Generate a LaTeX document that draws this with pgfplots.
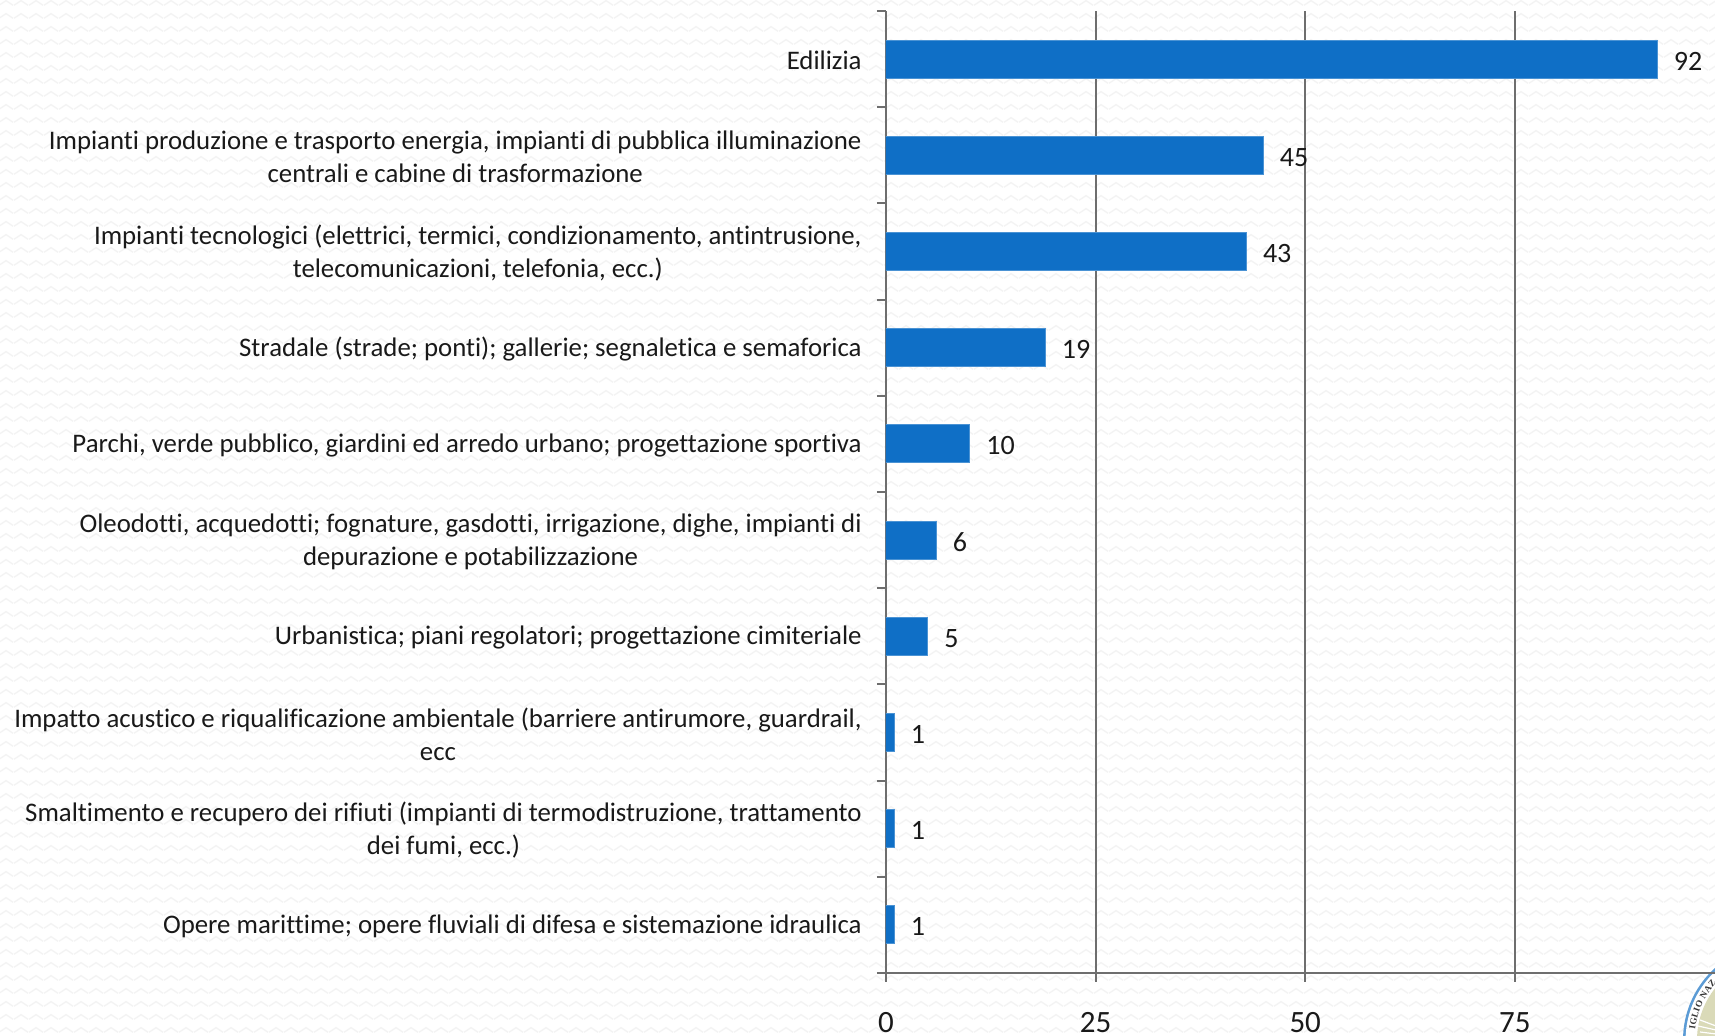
\documentclass[border=0pt]{standalone}
\usepackage{fontspec}
\setmainfont[Ligatures=NoCommon]{Carlito}
\newfontfamily\sealfont{Liberation Serif}
\usepackage{pgfplots}
\pgfplotsset{compat=1.18}
\usetikzlibrary{patterns,calc}
\definecolor{barblue}{HTML}{0F6FC6}
\definecolor{axisgray}{HTML}{6E6E6E}
\definecolor{wavegray}{HTML}{F3F3F3}
\definecolor{sealolive}{HTML}{DADAB8}
\definecolor{sealblue}{HTML}{5B9BD5}
% 1 px of the reference = 0.5pt here
\pgfdeclarepatternformonly{wavebg}{\pgfqpoint{0pt}{0pt}}{\pgfqpoint{7.5pt}{6.5pt}}{\pgfqpoint{7.5pt}{6.5pt}}{
  \pgfsetlinewidth{0.7pt}
  \pgfpathmoveto{\pgfqpoint{0pt}{2pt}}
  \pgfpathlineto{\pgfqpoint{3.75pt}{4.5pt}}
  \pgfpathlineto{\pgfqpoint{7.5pt}{2pt}}
  \pgfusepath{stroke}
}
\begin{document}
\begin{tikzpicture}
\clip (0,0) rectangle (857.5pt,518pt);
\fill[white] (0,0) rectangle (857.5pt,518pt);
\fill[pattern=wavebg, pattern color=wavegray] (0,0) rectangle (857.5pt,518pt);
% seal in the corner, cut by the page edge
\fill[sealblue] (890pt,-2pt) circle (48.5pt);
\fill[white] (890pt,-2pt) circle (47.2pt);
\fill[sealolive] (890pt,-2pt) circle (41.5pt);
\draw[white, line width=0.6pt] (849pt,5pt) -- (858pt,3pt) (850pt,2pt) -- (858pt,1pt) (850pt,8pt) -- (858pt,5pt);
\foreach \a/\l in {172/I,168/G,163.5/L,160/I,156/O,149.5/N,144.5/A,140/Z}{
  \pgfmathsetmacro{\r}{\a-90}
  \node[rotate=\r, font=\sealfont\bfseries\fontsize{4.6}{5}\selectfont, inner sep=0pt, text=black!80]
    at ($(890pt,-2pt)+(\a:44.3pt)$) {\l};
}
\begin{axis}[
    at={(443pt,31.5pt)},
    anchor=south west,
    scale only axis,
    width=414.5pt,
    height=481pt,
    xbar,
    bar width=19pt,
    xmin=0, xmax=98.87,
    ymin=-0.5, ymax=9.5,
    axis x line=bottom,
    axis y line=left,
    axis line style={-, draw=axisgray, line width=1pt},
    xtick={0,25,50,75},
    minor xtick={0,25,50,75},
    ytick={0,...,9},
    minor ytick={-0.5,0.5,...,9.5},
    major tick length=0pt,
    minor tick length=4.5pt,
    tick align=outside,
    minor tick style={draw=axisgray, line width=1pt},
    xmajorgrids,
    major grid style={draw=axisgray, line width=1pt},
    yticklabels={
      {Opere marittime; opere fluviali di difesa e sistemazione idraulica},
      {Smaltimento e recupero dei rifiuti (impianti di termodistruzione, trattamento\\dei fumi, ecc.)},
      {Impatto acustico e riqualificazione ambientale (barriere antirumore, guardrail,\\ecc},
      {Urbanistica; piani regolatori; progettazione cimiteriale},
      {Oleodotti, acquedotti; fognature, gasdotti, irrigazione, dighe, impianti di\\depurazione e potabilizzazione},
      {Parchi, verde pubblico, giardini ed arredo urbano; progettazione sportiva},
      {Stradale (strade; ponti); gallerie; segnaletica e semaforica},
      {Impianti tecnologici (elettrici, termici, condizionamento, antintrusione,\\telecomunicazioni, telefonia, ecc.)},
      {Impianti produzione e trasporto energia, impianti di pubblica illuminazione\\centrali e cabine di trasformazione},
      {Edilizia}
    },
    yticklabel style={align=center, font=\fontsize{13.4}{16.5}\selectfont, text=black!90},
    y tick label style={xshift=-12pt, yshift=-0.7pt, inner sep=0pt},
    xticklabel style={font=\fontsize{15.5}{18}\selectfont, text=black!90, inner sep=0pt,
      /pgf/number format/assume math mode=true, yshift=-19.5pt},
    nodes near coords,
    nodes near coords style={font=\fontsize{14}{16}\selectfont, text=black!90, inner sep=0pt, xshift=8pt, yshift=-1pt,
      /pgf/number format/assume math mode=true},
  ]
  \addplot[fill=barblue, draw=barblue!75!white, line width=0.5pt] coordinates {
    (1,0) (1,1) (1,2) (5,3) (6,4) (10,5) (19,6) (43,7) (45,8) (92,9)};
\end{axis}
\end{tikzpicture}
\end{document}
